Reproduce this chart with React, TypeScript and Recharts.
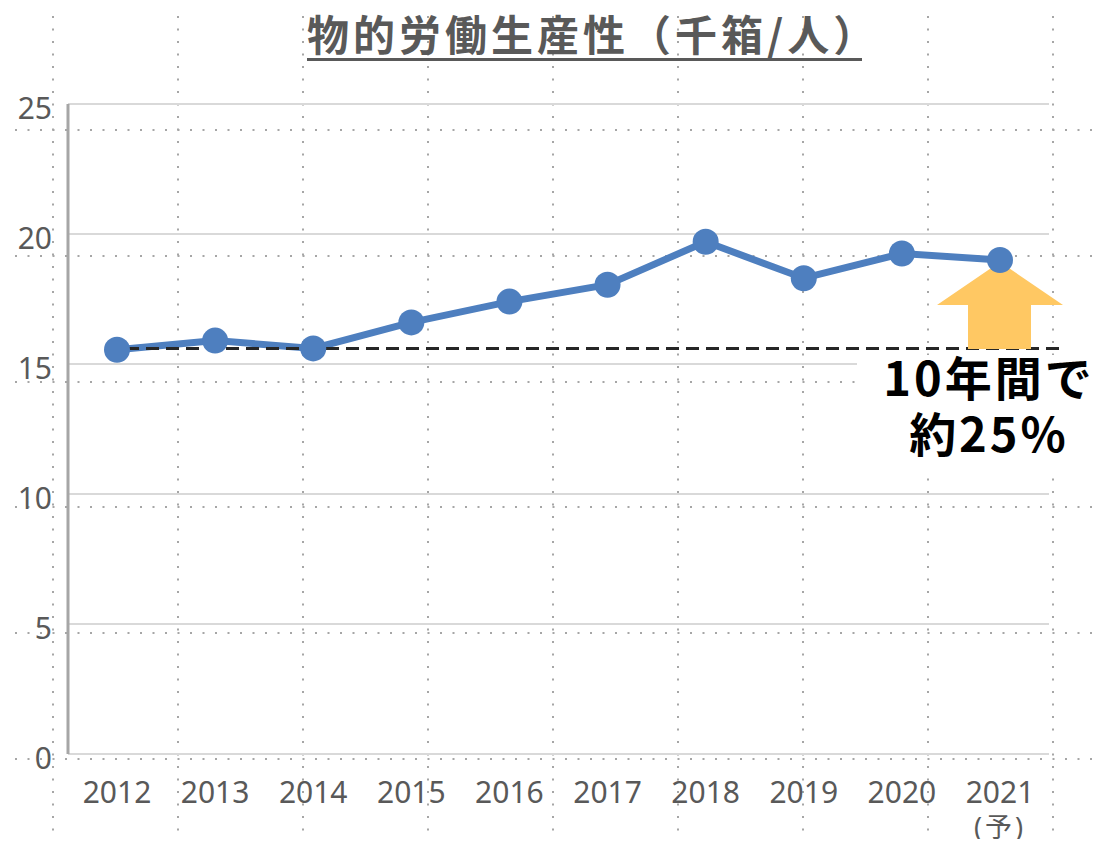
import React from 'react';
import {
  LineChart, Line, XAxis, YAxis, CartesianGrid, ReferenceLine, ReferenceDot,
} from 'recharts';

const YEARS = ['2012', '2013', '2014', '2015', '2016', '2017', '2018', '2019', '2020', '2021'];
const SUB_LABELS = ['', '', '', '', '', '', '', '', '', '(予)'];
const PRODUCTIVITY = [15.55, 15.9, 15.6, 16.6, 17.4, 18.05, 19.7, 18.3, 19.25, 19.0];
const BASELINE = 15.6;
const Y_TICKS = [0, 5, 10, 15, 20, 25];

const data = YEARS.map((year, i) => ({ year, value: PRODUCTIVITY[i], sub: SUB_LABELS[i] }));

const BLUE = '#4E7FBF';
const GRAY_TEXT = '#595959';
const FONT = '"Noto Sans", "Noto Sans CJK JP", sans-serif';

// slide-style dotted grid behind the chart
function DottedBackdrop() {
  const cols = [53, 178, 303, 428, 553, 678, 803, 928, 1053];
  const rows = [130, 256, 382, 507, 633, 759];
  return (
    <svg width={1102} height={847} style={{ position: 'absolute', left: 0, top: 0 }}>
      {cols.map((x) => (
        <line key={'c' + x} x1={x} x2={x} y1={16} y2={847} stroke="#a6a6a6"
          strokeWidth={2} strokeDasharray="2 10.5" />
      ))}
      {rows.map((y) => (
        <line key={'r' + y} x1={15} x2={1102} y1={y} y2={y} stroke="#a6a6a6"
          strokeWidth={2} strokeDasharray="2 10.5" />
      ))}
    </svg>
  );
}

const XTick = ({ x, y, payload, index }: any) => (
  <g>
    <text x={x} y={y} dy={41} textAnchor="middle" fill={GRAY_TEXT} fontSize={30} fontFamily={FONT}>
      {payload.value}
    </text>
    {SUB_LABELS[index] && (
      <text x={x} y={y} dy={75} textAnchor="middle" fill={GRAY_TEXT} fontSize={27}
        letterSpacing={3} fontFamily={FONT}>
        {SUB_LABELS[index]}
      </text>
    )}
  </g>
);

const YTick = ({ x, y, payload }: any) => (
  <text x={x} y={y} dy={15} textAnchor="end" fill={GRAY_TEXT} fontSize={30} fontFamily={FONT}>
    {payload.value}
  </text>
);

// up arrow under the 2021 point
const UpArrow = ({ cx, cy }: any) => {
  if (cx == null || cy == null) return null;
  const top = cy + 2, head = cy + 45, bottom = cy + 89;
  const pts = [
    [cx, top], [cx + 63, head], [cx + 31, head], [cx + 31, bottom],
    [cx - 32, bottom], [cx - 32, head], [cx - 63, head],
  ].map((p) => p.join(',')).join(' ');
  return <polygon points={pts} fill="#FFC863" />;
};

const DashedBase = ({ x1, y1, x2 }: any) => {
  if (x1 == null) return null;
  return (
    <line x1={x1 + 9} x2={x2 + 63} y1={y1} y2={y1} stroke="#262626"
      strokeWidth={3} strokeDasharray="13 7" />
  );
};

export default function App() {
  return (
    <div style={{ position: 'relative', width: 1102, height: 847, margin: -8, background: '#fff' }}>
      <DottedBackdrop />

      <div style={{ position: 'absolute', left: 0, top: 0 }}>
        <LineChart width={1102} height={847} data={data}
          margin={{ top: 104, right: 53, bottom: 0, left: 0 }}>
          <CartesianGrid vertical={false} stroke="#d9d9d9" strokeWidth={2} />
          <XAxis dataKey="year" height={93} tickLine={false} tick={<XTick />} interval={0}
            axisLine={{ stroke: '#d9d9d9', strokeWidth: 2 }} padding={{ left: 49, right: 49 }} />
          <YAxis domain={[0, 25]} ticks={Y_TICKS} width={68} tickLine={false} tickSize={0}
            tickMargin={16} tick={<YTick />} axisLine={{ stroke: '#a6a6a6', strokeWidth: 3 }} />
          <ReferenceDot x="2021" y={PRODUCTIVITY[9]} r={0} shape={<UpArrow />} ifOverflow="visible" />
          <Line dataKey="value" stroke={BLUE} strokeWidth={7} isAnimationActive={false}
            dot={{ r: 13, fill: BLUE, stroke: BLUE, strokeWidth: 0 }} />
          <ReferenceLine segment={[{ x: '2012', y: BASELINE }, { x: '2021', y: BASELINE }]}
            shape={<DashedBase />} ifOverflow="visible" />
        </LineChart>
      </div>

      <div style={{
        position: 'absolute', left: 307, top: 8, width: 555, textAlign: 'center',
        fontFamily: '"Noto Sans CJK JP", sans-serif', fontWeight: 700, fontSize: 42,
        letterSpacing: 4, color: GRAY_TEXT, lineHeight: '50px', borderBottom: '3px solid ' + GRAY_TEXT,
        whiteSpace: 'nowrap',
      }}>
        物的労働生産性（千箱/人）
      </div>

      <div style={{
        position: 'absolute', left: 857, top: 355, width: 245, height: 115, background: '#fff',
      }}>
        <div style={{
          marginTop: -7, paddingLeft: 19, textAlign: 'center', whiteSpace: 'pre-line',
          fontFamily: '"Noto Sans CJK JP", sans-serif', fontWeight: 700, fontSize: 47,
          letterSpacing: 3, color: '#000', lineHeight: '56px',
        }}>
          {'10年間で\n約25%'}
        </div>
      </div>
    </div>
  );
}
